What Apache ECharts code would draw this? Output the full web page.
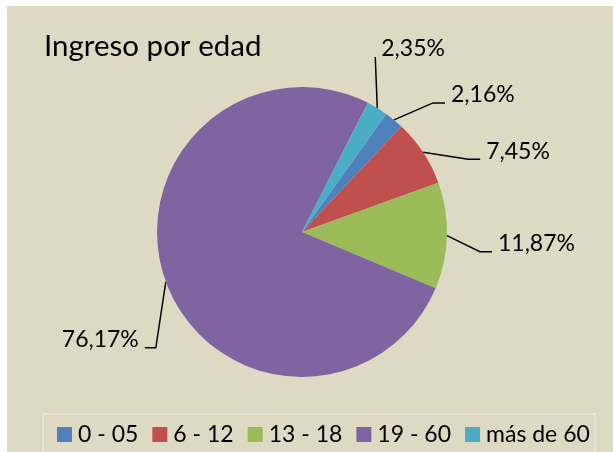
<!DOCTYPE html>
<html>
<head>
<meta charset="utf-8">
<title>Ingreso por edad</title>
<script src="https://cdn.jsdelivr.net/npm/echarts@6/dist/echarts.min.js"></script>
<style>
    html, body { margin: 0; padding: 0; background: #ffffff; }
    #paper { position: absolute; left: 7px; top: 6px; width: 606px; height: 446px; background: #ddd9c3; }
    #chart { position: absolute; left: 0; top: 0; width: 613px; height: 452px; }
</style>
</head>
<body>
<div id="paper"></div>
<div id="chart"></div>
<script>
// datos del grafico
var categories = ['0 - 05', '6 - 12', '13 - 18', '19 - 60', 'más de 60'];
var shares = [2.16, 7.45, 11.87, 76.17, 2.35];
var colors = ['#4f81bd', '#c0504d', '#9bbb59', '#8064a2', '#4bacc6'];

// lineas guia estilo Excel: codo y final relativos al borde del sector
var guides = [
    { bend: [39, -17], end: [51, -17], align: 'left' },
    { bend: [45, 7], end: [57, 7], align: 'left' },
    { bend: [33, 16], end: [45, 16], align: 'left' },
    { bend: [-10, 66], end: [-21, 66], align: 'right' },
    { bend: [-2, -51], end: [-2, -51], align: 'left' }
];

var chart = echarts.init(document.getElementById('chart'));

var pieData = [];
for (var i = 0; i < categories.length; i++) {
    pieData.push({ name: categories[i], value: shares[i] });
}

var options = {
    animation: false,
    color: colors,
    textStyle: { fontFamily: 'Lato' },
    title: {
        text: 'Ingreso por edad',
        left: 44,
        top: 31,
        padding: 0,
        textStyle: { fontFamily: 'Lato', fontSize: 29.5, fontWeight: 'normal', color: '#000' }
    },
    legend: {
        data: categories,
        left: 43,
        top: 414,
        padding: [9, 5, 30, 14],
        itemWidth: 15,
        itemHeight: 15,
        itemGap: 14,
        icon: 'rect',
        borderColor: '#e9e7de',
        borderWidth: 1.5,
        textStyle: { fontFamily: 'Lato', fontSize: 23, color: '#000', padding: [0, 0, 0, 1] }
    },
    series: [{
        name: 'Ingreso por edad',
        type: 'pie',
        center: [302, 232],
        radius: 145,
        startAngle: 54.5,
        clockwise: true,
        avoidLabelOverlap: false,
        silent: true,
        data: pieData,
        itemStyle: { borderWidth: 0 },
        label: {
            show: true,
            position: 'outside',
            color: '#000',
            fontFamily: 'Lato',
            fontSize: 23,
            formatter: function (p) {
                return p.value.toFixed(2).replace('.', ',') + '%';
            }
        },
        labelLine: {
            show: true,
            length: 10,
            length2: 10,
            lineStyle: { color: '#000', width: 1.5 }
        },
        labelLayout: function (p) {
            var g = guides[p.dataIndex];
            var s = p.labelLinePoints[0];
            var b = [s[0] + g.bend[0], s[1] + g.bend[1]];
            var e = [s[0] + g.end[0], s[1] + g.end[1]];
            return {
                x: e[0] + (g.align === 'left' ? 6 : -6),
                y: e[1] - 8,
                align: g.align,
                verticalAlign: 'middle',
                labelLinePoints: [s, b, e]
            };
        }
    }]
};

chart.setOption(options);
window.onresize = function () {
    chart.resize();
};
</script>
</body>
</html>
